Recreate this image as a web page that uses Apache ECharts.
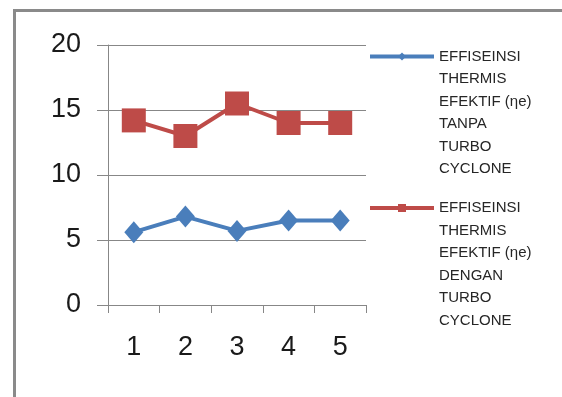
<!DOCTYPE html>
<html>
<head>
<meta charset="utf-8">
<script src="https://cdn.jsdelivr.net/npm/echarts@6/dist/echarts.min.js"></script>
<style>
  html, body { margin: 0; padding: 0; background: #fff; }
  #chart { width: 562px; height: 397px; }
</style>
</head>
<body>
<div id="chart"></div>
<script>
// Test runs on the x axis
const categories = ['1', '2', '3', '4', '5'];

// Effective thermal efficiency per run
const tanpaTurbo = [5.6, 6.8, 5.7, 6.5, 6.5];
const denganTurbo = [14.2, 13.0, 15.5, 14.0, 14.0];

// Legend names, one word group per line
const nameTanpa = ['EFFISEINSI', 'THERMIS', 'EFEKTIF (ηe)', 'TANPA', 'TURBO', 'CYCLONE'].join('\n');
const nameDengan = ['EFFISEINSI', 'THERMIS', 'EFEKTIF (ηe)', 'DENGAN', 'TURBO', 'CYCLONE'].join('\n');

const FONT = '"Liberation Sans", Arial, sans-serif';
const GRAY = '#878787';
const LINE_H = 22.5;
const PAD_LINES = 5; // blank lines above the name so the symbol sits beside its first line

const chart = echarts.init(document.getElementById('chart'), null, { renderer: 'canvas' });

function legendFor(name, firstLineY) {
  return {
    data: [name],
    left: 368,
    top: firstLineY - (PAD_LINES + 0.5) * LINE_H,
    orient: 'vertical',
    itemWidth: 64,
    itemHeight: 10,
    itemGap: 0,
    padding: 0,
    selectedMode: false,
    formatter: n => '\n'.repeat(PAD_LINES) + n,
    lineStyle: { width: 4 },
    textStyle: {
      fontFamily: FONT,
      fontSize: 15,
      color: '#262626',
      lineHeight: LINE_H
    }
  };
}

chart.setOption({
  animation: false,
  backgroundColor: '#ffffff',
  graphic: [{
    type: 'rect',
    shape: { x: 14.5, y: 10.5, width: 700, height: 500 },
    style: { fill: 'none', stroke: '#8a8a8a', lineWidth: 3 },
    silent: true
  }],
  grid: { left: 108, right: 196, top: 45, bottom: 92, containLabel: false },
  legend: [legendFor(nameTanpa, 56.5), legendFor(nameDengan, 208)],
  xAxis: {
    type: 'category',
    data: categories,
    boundaryGap: true,
    axisLine: { lineStyle: { color: GRAY, width: 1 } },
    axisTick: { show: true, length: 8, lineStyle: { color: GRAY } },
    axisLabel: { fontFamily: FONT, fontSize: 27, color: '#1a1a1a', margin: 29 },
    splitLine: { show: false }
  },
  yAxis: {
    type: 'value',
    min: 0,
    max: 20,
    interval: 5,
    axisLine: { show: true, lineStyle: { color: GRAY, width: 1 } },
    axisTick: { show: true, length: 11, lineStyle: { color: GRAY } },
    axisLabel: { fontFamily: FONT, fontSize: 27, color: '#1a1a1a', margin: 27 },
    splitLine: { show: true, lineStyle: { color: GRAY, width: 1 } }
  },
  series: [
    {
      name: nameTanpa,
      type: 'line',
      data: tanpaTurbo,
      symbol: 'diamond',
      symbolSize: [19, 22],
      color: '#4a7ebb',
      lineStyle: { width: 4, color: '#4a7ebb' },
      itemStyle: { color: '#4a7ebb' }
    },
    {
      name: nameDengan,
      type: 'line',
      data: denganTurbo,
      symbol: 'rect',
      symbolSize: 24,
      color: '#be4b48',
      lineStyle: { width: 4, color: '#be4b48' },
      itemStyle: { color: '#be4b48' }
    }
  ]
});
</script>
</body>
</html>
